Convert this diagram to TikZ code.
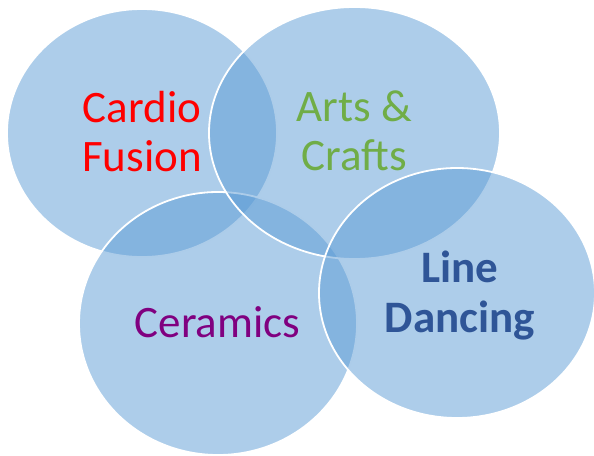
\documentclass[tikz,border=0pt]{standalone}
\usepackage{fontspec}
\setmainfont{Carlito}
\usetikzlibrary{shapes.geometric}
\definecolor{blobfill}{HTML}{5B9BD5}
\definecolor{cardio}{HTML}{FF0000}
\definecolor{arts}{HTML}{70AD47}
\definecolor{ceram}{HTML}{800080}
\definecolor{linedance}{HTML}{2F5597}
\tikzset{
  blob/.style={ellipse, draw=white, line width=1.8pt, fill=blobfill, fill opacity=0.5, draw opacity=1, inner sep=0pt, outer sep=0pt},
  lbl/.style={align=center, inner sep=0pt, anchor=base, font=\fontsize{45}{49}\selectfont}
}
\begin{document}
\begin{tikzpicture}[x=1pt,y=-1pt]
\useasboundingbox (0,0) rectangle (594,455);
\node[blob, minimum width=270pt, minimum height=248pt] (e1) at (142,133) {};
\node[blob, minimum width=278pt, minimum height=263pt] (e3) at (218,323.5) {};
\node[blob, minimum width=291pt, minimum height=252pt] (e2) at (354.5,133) {};
\node[blob, minimum width=276pt, minimum height=250pt] (e4) at (457,293) {};
\node[lbl, text=cardio] (t1) at (142,171) {Cardio\\Fusion};
\node[lbl, text=arts] (t2) at (354.5,170) {Arts \&\\Crafts};
\node[lbl, text=ceram] (t3) at (217.5,337) {Ceramics};
\node[lbl, text=linedance, font=\fontsize{45}{50}\selectfont\bfseries] (t4) at (460,332) {Line\\Dancing};
\end{tikzpicture}
\end{document}
